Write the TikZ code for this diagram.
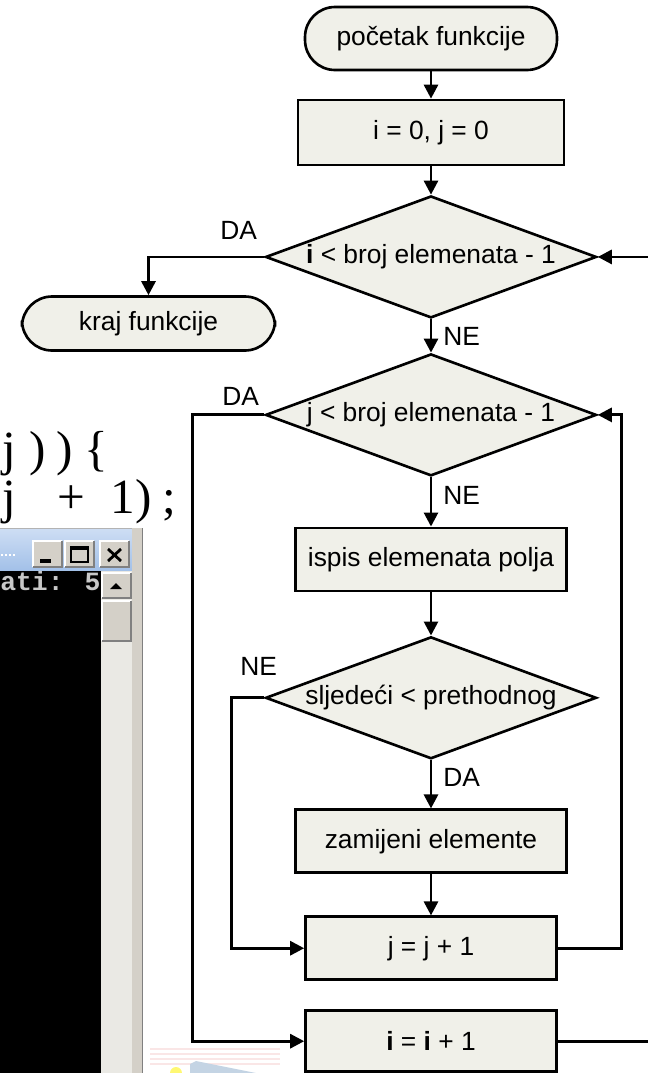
\documentclass[tikz,border=0pt]{standalone}
\usepackage{fontspec}
\setmainfont{Liberation Sans}
\newfontfamily\codefont{Liberation Serif}
\newfontfamily\consolefont{Liberation Mono}
\usetikzlibrary{arrows.meta}
\usetikzlibrary{positioning}
\usetikzlibrary{shapes.geometric}
\definecolor{boxfill}{RGB}{240,240,233}
\definecolor{winface}{RGB}{212,208,200}
\definecolor{winshadow}{RGB}{128,128,128}
\definecolor{titletop}{RGB}{206,222,244}
\definecolor{titlebot}{RGB}{162,192,232}
\definecolor{scrolltrack}{RGB}{234,233,228}
\definecolor{consoletext}{RGB}{200,200,200}
\definecolor{pinkline}{RGB}{250,230,230}
\definecolor{iconblue}{RGB}{196,212,228}
\newcommand{\dtext}[1]{\makebox[0pt]{#1}}

\begin{document}
\begin{tikzpicture}[x=0.02cm, y=-0.02cm,
    every node/.style={font=\fontsize{15}{18}\selectfont},
    term/.style={draw, line width=1.5pt, fill=boxfill, rounded corners=0.6cm, minimum height=1.26cm},
    proc/.style={draw, line width=1.5pt, fill=boxfill, minimum height=1.26cm},
    decision/.style={draw, line width=1.5pt, fill=boxfill, diamond, inner sep=0pt,
      minimum width=6.62cm, minimum height=2.44cm},
    flow/.style={line width=1.6pt, -{Triangle[length=0.28cm, width=0.28cm]}},
    lbl/.style={inner sep=0pt},
    winbtn/.style={fill=winface},
  ]
  \useasboundingbox (0,0) rectangle (648,1073);

  % console window behind the chart
  \shade[top color=titletop, bottom color=titlebot] (-5,528) rectangle (132,571);
  \draw[winshadow!60] (-5,528.5) -- (143,528.5);
  \foreach \x in {1,5,9,13}
    \fill[white] (\x,554) rectangle ++(2,2);
  \foreach \bx in {33,65,100} {
    \fill[winbtn] (\bx,541) rectangle ++(29,26);
    \draw[white, line width=0.6pt] (\bx,567) -- (\bx,541) -- ++(29,0);
    \draw[winshadow, line width=0.6pt] (\bx+29,541) -- ++(0,26) -- (\bx,567);
  }
  \fill[black] (40,559) rectangle (51,563);
  \draw[black, line width=0.8pt] (71,547) rectangle (88,562);
  \fill[black] (71,547) rectangle (88,550);
  \draw[black, line width=1.6pt] (108,549) -- (121,561) (108,561) -- (121,549);
  \fill[winface] (132,528) rectangle (143,1080);
  \draw[winshadow] (142.5,528) -- (142.5,1080);
  \fill[black] (-5,571) rectangle (101,1080);
  \fill[scrolltrack] (101,571) rectangle (132,1080);
  \fill[winface] (102,573) rectangle (131,598);
  \draw[white, line width=0.6pt] (102,598) -- (102,573) -- (131,573);
  \draw[winshadow, line width=0.6pt] (131,573) -- (131,598) -- (102,598);
  \fill[black] (110,589) -- (122,589) -- (116,583) -- cycle;
  \fill[winface] (102,601) rectangle (131,641);
  \draw[white, line width=0.6pt] (102,641) -- (102,601) -- (131,601);
  \draw[winshadow, line width=0.6pt] (131,601) -- (131,641) -- (102,641);
  \node[lbl, anchor=base west, text=consoletext,
    font=\consolefont\bfseries\fontsize{15}{18}\selectfont] (prompt) at (0,590) {ati: 5};

  % code lines cut at the left
  \node[lbl, anchor=base west, font=\codefont\fontsize{28}{32}\selectfont] (codeif) at (2,465)
    {j\hspace{0.28cm})\hspace{0.2cm})\hspace{0.24cm}\{};
  \node[lbl, anchor=base west, font=\codefont\fontsize{28}{32}\selectfont] (codecall) at (2,513)
    {j\hspace{0.84cm}+\hspace{0.5cm}1)\hspace{0.22cm};};

  % faint stripes at the bottom
  \foreach \yy in {1049,1054,1059,1064}
    \draw[pinkline, line width=1pt] (150,\yy) -- (280,\yy);
  \fill[yellow!55] (176,1073) circle (6);
  \fill[iconblue] (190,1064) -- (196,1061) -- (256,1073) -- (190,1073) -- cycle;

  % flowchart
  \node[term, minimum width=5.04cm] (start) at (431,38.5) {početak funkcije};
  \node[proc, minimum width=5.32cm, minimum height=1.3cm, below=0.547cm of start] (init) {i = 0, j = 0};
  \node[decision, below=0.567cm of init] (dia1) {\dtext{\textbf{i} < broj elemenata - 1}};
  \node[term, minimum width=5.06cm, minimum height=1.08cm] (kraj) at (148.5,323.5) {kraj funkcije};
  \node[decision, below=0.667cm of dia1] (dia2) {\dtext{j < broj elemenata - 1}};
  \node[proc, minimum width=5.42cm, below=0.987cm of dia2] (ispis) {ispis elemenata polja};
  \node[decision, below=0.867cm of ispis] (dia3) {\dtext{sljedeći < prethodnog}};
  \node[proc, minimum width=5.42cm, below=0.967cm of dia3] (zam) {zamijeni elemente};
  \node[proc, minimum width=5.02cm, below=0.827cm of zam] (jinc) {j = j + 1};
  \node[proc, minimum width=5.02cm, minimum height=1.22cm, below=0.567cm of jinc] (iinc) {\textbf{i} = \textbf{i} + 1};

  \draw[flow] (start) -- (init);
  \draw[flow] (init) -- (dia1);
  \draw[flow] (dia1.west) -| (kraj.north);
  \draw[flow] (dia1) -- (dia2);
  \draw[flow] (dia2) -- (ispis);
  \draw[flow] (ispis) -- (dia3);
  \draw[flow] (dia3) -- (zam);
  \draw[flow] (zam) -- (jinc);
  \draw[flow] (dia3.west) -- ++(-33,0) |- (jinc.west);
  \draw[flow] (jinc.east) -- ++(64,0) |- (dia2.east);
  \draw[flow] (dia2.west) -- ++(-72,0) |- (iinc.west);
  \draw[flow] (iinc.east) -- ++(120,0) |- (dia1.east);

  \node[lbl, anchor=base east] (da1) at ([shift={(-7,-17)}]dia1.west) {DA};
  \node[lbl, anchor=base west] (ne1) at ([shift={(12,26)}]dia1.south) {NE};
  \node[lbl, anchor=base east] (da2) at ([shift={(-5,-9.5)}]dia2.west) {DA};
  \node[lbl, anchor=base west] (ne2) at ([shift={(12,27)}]dia2.south) {NE};
  \node[lbl, anchor=base east] (ne3) at ([shift={(13,-22.5)}]dia3.west) {NE};
  \node[lbl, anchor=base west] (da3) at ([shift={(12,26.5)}]dia3.south) {DA};
\end{tikzpicture}
\end{document}
